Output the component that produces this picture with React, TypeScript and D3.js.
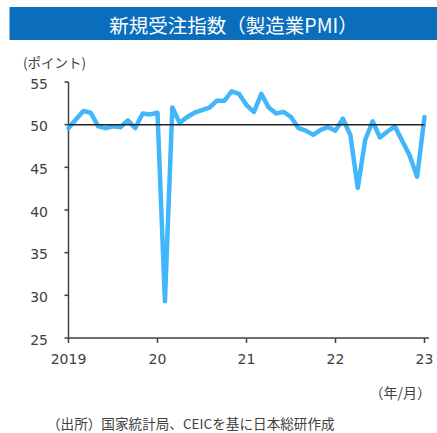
import React from "react";
import * as d3 from "d3";

// China manufacturing PMI, new orders sub-index (monthly, 2019/01 – 2023/01)
const months: string[] = [
  "2019-01", "2019-02", "2019-03", "2019-04", "2019-05", "2019-06", "2019-07", "2019-08", "2019-09", "2019-10", "2019-11", "2019-12",
  "2020-01", "2020-02", "2020-03", "2020-04", "2020-05", "2020-06", "2020-07", "2020-08", "2020-09", "2020-10", "2020-11", "2020-12",
  "2021-01", "2021-02", "2021-03", "2021-04", "2021-05", "2021-06", "2021-07", "2021-08", "2021-09", "2021-10", "2021-11", "2021-12",
  "2022-01", "2022-02", "2022-03", "2022-04", "2022-05", "2022-06", "2022-07", "2022-08", "2022-09", "2022-10", "2022-11", "2022-12",
  "2023-01",
];

const newOrders: number[] = [
  49.6, 50.6, 51.6, 51.4, 49.8, 49.6, 49.8, 49.7, 50.5, 49.6, 51.3, 51.2,
  51.4, 29.3, 52.0, 50.2, 50.9, 51.4, 51.7, 52.0, 52.8, 52.8, 53.9, 53.6,
  52.3, 51.5, 53.6, 52.0, 51.3, 51.5, 50.9, 49.6, 49.3, 48.8, 49.4, 49.7,
  49.3, 50.7, 48.8, 42.6, 48.2, 50.4, 48.5, 49.2, 49.8, 48.1, 46.4, 43.9,
  50.9,
];

const yTicks: number[] = [25, 30, 35, 40, 45, 50, 55];
const xTickIndex: number[] = [0, 12, 24, 36, 48];
const xTickLabels: string[] = ["2019", "20", "21", "22", "23"];

const W = 437;
const H = 433;
const JP = "'Noto Sans CJK JP', 'Noto Sans', sans-serif";
const NUM = "'DejaVu Sans', 'Noto Sans', sans-serif";
const axisColor = "#404040";

export default function App() {
  const x = d3.scaleLinear().domain([0, months.length - 1]).range([68.5, 424.5]);
  const y = d3.scaleLinear().domain([25, 55]).range([338, 82]);

  const line = d3
    .line<number>()
    .x((_, i) => x(i))
    .y((d) => y(d))
    .curve(d3.curveLinear);

  const x0 = x(0);
  const xEnd = 429;

  return (
    <svg
      width={W}
      height={H}
      viewBox={`0 0 ${W} ${H}`}
      style={{ position: "absolute", left: 0, top: 0, background: "#fff" }}
    >
      {/* title banner */}
      <rect x={9.5} y={7} width={W - 9.5} height={33} fill="#0A6EBD" />
      <text
        x={233.5}
        y={24}
        fill="#fff"
        fontFamily={JP}
        fontSize={19.5}
        textAnchor="middle"
        dominantBaseline="central"
      >
        新規受注指数（製造業PMI）
      </text>

      {/* unit label */}
      <text x={23} y={62} fontFamily={JP} fontSize={13.5} fill={axisColor} dominantBaseline="central">
        (ポイント)
      </text>

      {/* y axis */}
      <line x1={x0} x2={x0} y1={y(55)} y2={y(25)} stroke={axisColor} strokeWidth={1.5} />
      {yTicks.map((t) => (
        <g key={t}>
          <line x1={x0 - 4} x2={x0} y1={y(t)} y2={y(t)} stroke={axisColor} strokeWidth={1.5} />
          <text
            x={48}
            y={y(t) + 1.5}
            textAnchor="end"
            dominantBaseline="central"
            fontFamily={NUM}
            fontSize={14}
            fill={axisColor}
          >
            {t}
          </text>
        </g>
      ))}

      {/* x axis */}
      <line x1={x0 - 0.75} x2={xEnd} y1={y(25)} y2={y(25)} stroke={axisColor} strokeWidth={1.5} />
      {xTickIndex.map((idx, k) => (
        <g key={idx}>
          <line x1={x(idx)} x2={x(idx)} y1={y(25)} y2={y(25) + 5} stroke={axisColor} strokeWidth={1.5} />
          <text
            x={x(idx)}
            y={y(25) + 21}
            textAnchor="middle"
            dominantBaseline="central"
            fontFamily={NUM}
            fontSize={14}
            fill={axisColor}
          >
            {xTickLabels[k]}
          </text>
        </g>
      ))}

      {/* data line */}
      <path
        d={line(newOrders) ?? ""}
        fill="none"
        stroke="#41B6FA"
        strokeWidth={4.5}
        strokeLinejoin="round"
        strokeLinecap="round"
      />

      {/* 50 boom/bust line */}
      <line x1={x0} x2={x(months.length - 1)} y1={y(50)} y2={y(50)} stroke="#222" strokeWidth={1.5} />

      {/* unit label for x axis */}
      <text x={431} y={392} textAnchor="end" dominantBaseline="central" fontFamily={JP} fontSize={14} fill={axisColor}>
        （年/月）
      </text>

      {/* source */}
      <text x={47} y={423} dominantBaseline="central" fontFamily={JP} fontSize={13.6} fill={axisColor}>
        （出所）国家統計局、CEICを基に日本総研作成
      </text>
    </svg>
  );
}
